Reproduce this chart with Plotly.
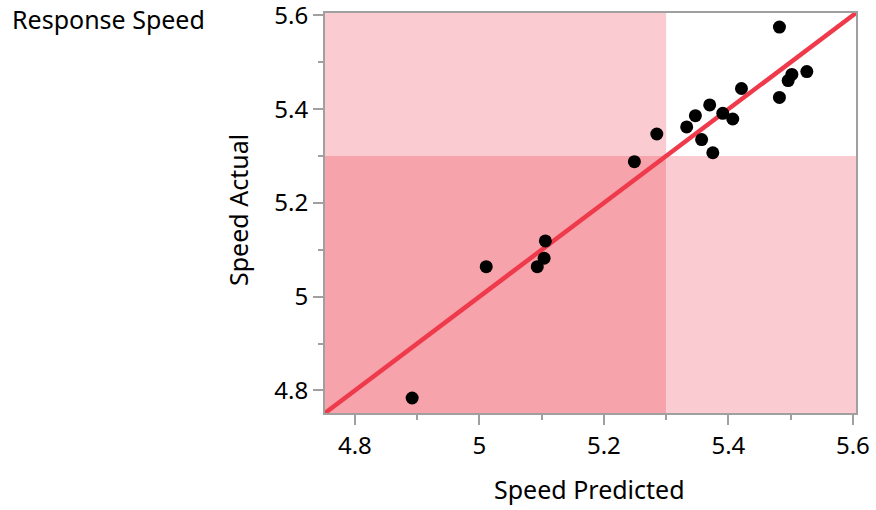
import plotly.graph_objects as go

# Data
speed_predicted = [5.482, 5.526, 5.502, 5.496, 5.482, 5.421, 5.370, 5.347, 5.391, 5.407,
                   5.333, 5.357, 5.375, 5.285, 5.249, 5.106, 5.104, 5.093, 5.011, 4.892]
speed_actual = [5.575, 5.480, 5.474, 5.461, 5.425, 5.444, 5.409, 5.386, 5.391, 5.379,
                5.362, 5.335, 5.307, 5.347, 5.288, 5.119, 5.082, 5.064, 5.064, 4.784]
tick_vals = [4.8, 5.0, 5.2, 5.4, 5.6]
tick_text = ["4.8", "5", "5.2", "5.4", "5.6"]
threshold = 5.3
axis_lo, axis_hi = 4.752, 5.605

FONT = "Noto Sans"
GREY = "#A0A0A0"
DARK = "#F7A3AB"
LIGHT = "#FACBD1"
RED = "#EF3A4C"

fig = go.Figure()

# Diagonal y = x reference line across the axis range
fig.add_trace(go.Scatter(x=[axis_lo, axis_hi], y=[axis_lo, axis_hi], mode="lines",
                         line=dict(color=RED, width=4.5), hoverinfo="skip", showlegend=False))
fig.add_trace(go.Scatter(x=speed_predicted, y=speed_actual, mode="markers",
                         marker=dict(color="black", size=13), showlegend=False))

shapes = [
    dict(type="rect", xref="x", yref="y", x0=axis_lo, x1=threshold, y0=axis_lo, y1=threshold,
         fillcolor=DARK, line=dict(width=0), layer="below"),
    dict(type="rect", xref="x", yref="y", x0=axis_lo, x1=threshold, y0=threshold, y1=axis_hi,
         fillcolor=LIGHT, line=dict(width=0), layer="below"),
    dict(type="rect", xref="x", yref="y", x0=threshold, x1=axis_hi, y0=axis_lo, y1=threshold,
         fillcolor=LIGHT, line=dict(width=0), layer="below"),
]

axis_common = dict(
    range=[axis_lo, axis_hi], tickvals=tick_vals, ticktext=tick_text,
    showgrid=False, zeroline=False, showline=True, linecolor=GREY, linewidth=2,
    mirror=True, ticks="outside", ticklen=10, tickwidth=2, tickcolor=GREY,
    tickfont=dict(family=FONT, size=24, color="black"), automargin=False,
    ticklabeloverflow="allow",
    minor=dict(dtick=0.1, tick0=4.8, ticks="outside", ticklen=5, tickwidth=2, tickcolor=GREY,
               showgrid=False),
)

TS = 25
fig.update_layout(
    width=876, height=510,
    margin=dict(l=325, r=20, t=13, b=97, autoexpand=False),
    paper_bgcolor="white", plot_bgcolor="white",
    shapes=shapes,
    xaxis=dict(**axis_common),
    yaxis=dict(**axis_common),
    font=dict(family=FONT, color="black"),
    annotations=[
        dict(text="Response Speed", xref="paper", yref="paper", x=(10 - 325) / 531, y=(413 - 19) / 400,
             xanchor="left", yanchor="middle", showarrow=False, font=dict(family=FONT, size=TS)),
        dict(text="Speed Predicted", xref="paper", yref="paper", x=0.499, y=(413 - 489) / 400,
             xanchor="center", yanchor="middle", showarrow=False, font=dict(family=FONT, size=TS)),
        dict(text="Speed Actual", xref="paper", yref="paper", x=(238 - 325) / 531, y=(413 - 210) / 400,
             xanchor="center", yanchor="middle", textangle=-90, showarrow=False,
             font=dict(family=FONT, size=TS)),
    ],
)

fig.write_html("out.html", config={"displayModeBar": False},
               post_script="document.body.style.margin='0';")
